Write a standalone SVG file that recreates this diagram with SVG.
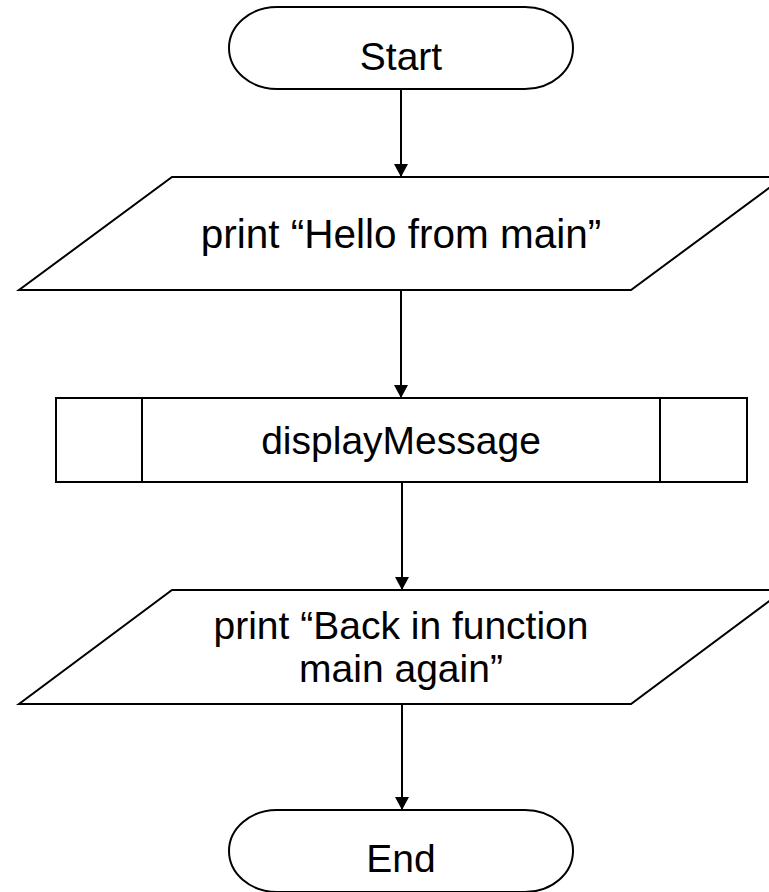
<svg xmlns="http://www.w3.org/2000/svg" width="769" height="892" viewBox="0 0 769 892">
  <style>
    .shape { fill: #ffffff; stroke: #000000; stroke-width: 2; }
    .line { fill: none; stroke: #000000; stroke-width: 2; }
    .conn { fill: none; stroke: #000000; stroke-width: 2; marker-end: url(#arrow); }
    .label { font-family: "Liberation Sans", Arial, sans-serif; font-size: 39px; fill: #000000; text-anchor: middle; }
    .wide { font-size: 40.5px; }
  </style>
  <defs>
    <marker id="arrow" markerWidth="14" markerHeight="14" refX="13" refY="7" orient="auto" markerUnits="userSpaceOnUse" viewBox="0 0 13 14">
      <path d="M0,0 L13,7 L0,14 Z" fill="#000000"/>
    </marker>
  </defs>
  <rect width="769" height="892" fill="#ffffff"/>

  <g id="connectors">
    <line class="conn" x1="401" y1="89" x2="401" y2="177"/>
    <line class="conn" x1="401" y1="290" x2="401" y2="398"/>
    <line class="conn" x1="402" y1="482" x2="402" y2="590"/>
    <line class="conn" x1="402" y1="704" x2="402" y2="810"/>
  </g>

  <g id="start">
    <rect class="shape" x="229" y="7" width="344" height="82" rx="48" ry="41"/>
    <text class="label" x="401" y="70">Start</text>
  </g>

  <g id="print1">
    <polygon class="shape" points="172,177 784,177 631,290 19,290"/>
    <text class="label wide" x="401" y="248">print “Hello from main”</text>
  </g>

  <g id="displayMessage">
    <rect class="shape" x="56" y="398" width="691" height="84"/>
    <line class="line" x1="142" y1="398" x2="142" y2="482"/>
    <line class="line" x1="660" y1="398" x2="660" y2="482"/>
    <text class="label" x="401" y="454">displayMessage</text>
  </g>

  <g id="print2">
    <polygon class="shape" points="172,590 784,590 631,704 19,704"/>
    <text class="label" x="401" y="639">print “Back in function</text>
    <text class="label" x="401" y="682">main again”</text>
  </g>

  <g id="end">
    <rect class="shape" x="229" y="810" width="344" height="82" rx="48" ry="41"/>
    <text class="label" x="401" y="872">End</text>
  </g>
</svg>
